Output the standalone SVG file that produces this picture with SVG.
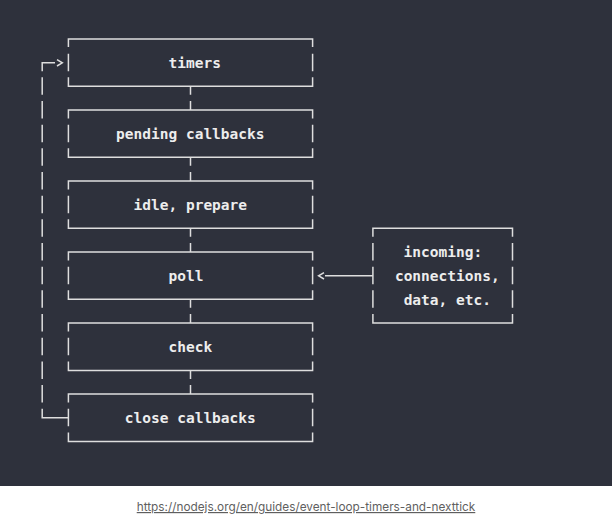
<svg xmlns="http://www.w3.org/2000/svg" width="612" height="516" viewBox="0 0 612 516">
<style>
.bg{fill:#2e313c}
.ln{fill:none;stroke:#dedede;stroke-width:1.5;stroke-linecap:butt;stroke-linejoin:miter}
.lbl{font-family:"DejaVu Sans Mono","Liberation Mono",monospace;font-size:14.5px;font-weight:bold;fill:#ededed;text-anchor:middle}
.cap{font-family:Inter,"Liberation Sans",sans-serif;font-size:11.8px;fill:#5f5f5f;text-anchor:middle;text-decoration:underline}
</style>
<rect x="0" y="0" width="612" height="516" fill="#ffffff"/>
<rect class="bg" x="0" y="0" width="612" height="486"/>

<g id="timers">
<path class="ln" d="M68.4,47 V39 H312.6 V47 M68.4,53.67 V71.17 M312.6,53.67 V71.17 M68.4,77.34 V86.34 H312.6 V77.34"/>
<text class="lbl" x="194.7" y="67.5">timers</text>
</g>
<g id="pending-callbacks">
<path class="ln" d="M68.4,118.5 V110.01 H312.6 V118.5 M68.4,124.68 V142.18 M312.6,124.68 V142.18 M68.4,148.35 V157.35 H312.6 V148.35"/>
<text class="lbl" x="190.3" y="138.5">pending callbacks</text>
</g>
<g id="idle-prepare">
<path class="ln" d="M68.4,189.5 V181.02 H312.6 V189.5 M68.4,195.69 V213.19 M312.6,195.69 V213.19 M68.4,219.36 V228.36 H312.6 V219.36"/>
<text class="lbl" x="190.3" y="209.5">idle, prepare</text>
</g>
<g id="poll">
<path class="ln" d="M68.4,260.5 V252.03 H312.6 V260.5 M68.4,266.7 V284.2 M312.6,266.7 V284.2 M68.4,290.37 V299.37 H312.6 V290.37"/>
<text class="lbl" x="186.0" y="280.5">poll</text>
</g>
<g id="check">
<path class="ln" d="M68.4,331.5 V323.04 H312.6 V331.5 M68.4,337.71 V355.21 M312.6,337.71 V355.21 M68.4,361.38 V370.38 H312.6 V361.38"/>
<text class="lbl" x="190.3" y="351.5">check</text>
</g>
<g id="close-callbacks">
<path class="ln" d="M68.4,402.5 V394.05 H312.6 V402.5 M68.4,408.72 V426.22 M312.6,408.72 V426.22 M68.4,432.39 V441.39 H312.6 V432.39"/>
<text class="lbl" x="190.3" y="422.5">close callbacks</text>
</g>
<g id="incoming">
<path class="ln" d="M372.9,236.8 V228.36 H512.5 V236.8 M372.9,243.03 V260.53 M512.5,243.03 V260.53 M372.9,266.7 V284.2 M512.5,266.7 V284.2 M372.9,290.37 V307.87 M512.5,290.37 V307.87 M372.9,314.04 V323.04 H512.5 V314.04"/>
<text class="lbl" x="442.9" y="257.3">incoming:</text>
<text class="lbl" x="447.3" y="281">connections,</text>
<text class="lbl" x="447.3" y="304.6">data, etc.</text>
</g>

<g id="connectors">
<path class="ln" d="M190.5,86.34 V94.84 M190.5,101.01 V110.01"/>
<path class="ln" d="M190.5,157.35 V165.85 M190.5,172.02 V181.02"/>
<path class="ln" d="M190.5,228.36 V236.86 M190.5,243.03 V252.03"/>
<path class="ln" d="M190.5,299.37 V307.87 M190.5,314.04 V323.04"/>
<path class="ln" d="M190.5,370.38 V378.88 M190.5,385.05 V394.05"/>
<path class="ln" d="M68.4,417.72 H42.2 V408.72"/>
<path class="ln" d="M42.2,402.55 V77.34" stroke-dasharray="17.5 6.17"/>
<path class="ln" d="M42.2,71.17 V62.67 H55"/>
<polyline class="ln" points="57,59.6 62.3,62.8 57,66"/>
<path class="ln" d="M372.9,275.8 H325"/>
<polyline class="ln" points="324,272.6 318.6,275.8 324,279"/>
</g>

<text class="cap" x="306" y="511">https://nodejs.org/en/guides/event-loop-timers-and-nexttick</text>
</svg>
